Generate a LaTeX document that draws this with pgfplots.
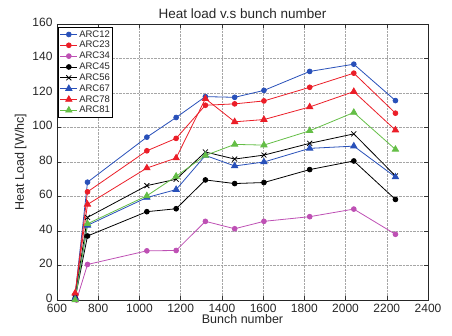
\documentclass[border=0pt]{standalone}
\usepackage{fontspec}
\setmainfont{Liberation Sans}
\usepackage{pgfplots}
\pgfplotsset{compat=1.18}
\definecolor{cblue}{RGB}{40,80,185}
\definecolor{cred}{RGB}{235,30,40}
\definecolor{cpink}{RGB}{190,80,180}
\definecolor{cgreen}{RGB}{100,190,70}
\begin{document}
\begin{tikzpicture}
\begin{axis}[
  scale only axis,
  width=371pt, height=276pt,
  xmin=600, xmax=2400, ymin=0, ymax=160,
  xtick={600,800,...,2400}, ytick={0,20,...,160},
  grid=major,
  grid style={densely dotted, black!35, line width=0.4pt},
  tick align=inside,
  major tick length=4pt,
  tick style={black!80, line width=0.5pt},
  axis line style={black!85, line width=0.9pt},
  /pgf/number format/assume math mode=true,
  /pgf/number format/1000 sep={},
  ticklabel style={font=\fontsize{12}{14}\selectfont, text=black!85},
  yticklabel style={yshift=2pt, xshift=-1pt},
  xticklabel style={yshift=-1pt},
  title={Heat load v.s bunch number},
  title style={font=\fontsize{13.5}{15}\selectfont, text=black!85, yshift=-4pt},
  xlabel={Bunch number},
  ylabel={Heat Load [W/hc]},
  label style={font=\fontsize{12.5}{14}\selectfont, text=black!85},
  xlabel style={yshift=5pt},
  ylabel style={yshift=-1pt},
  legend cell align=left,
  legend style={at={(0,1)}, anchor=north west, xshift=1pt, yshift=-3pt,
    font=\fontsize{9.5}{10.5}\selectfont, draw=black, line width=0.8pt,
    inner sep=1.5pt, row sep=-0.3pt, text=black!85,
    nodes={inner sep=1.5pt}},
  every axis plot/.append style={line width=0.8pt},
]
\coordinate (bl) at (rel axis cs:0,0);
\coordinate (tr) at (rel axis cs:1,1);
\addplot[cblue, mark=*, mark size=2.4pt, mark options={fill=cblue}] coordinates {
(688,3) (748,68.3) (1036,94.4) (1178,105.8) (1320,117.9) (1462,117.5) (1604,121.5) (1826,132.5) (2040,136.7) (2242,115.6)};
\addlegendentry{ARC12}
\addplot[cred, mark=*, mark size=2.4pt, mark options={fill=cred}] coordinates {
(688,3) (748,62.7) (1036,86.5) (1178,93.7) (1320,112.9) (1462,113.7) (1604,115.4) (1826,123.3) (2040,131.5) (2242,108.3)};
\addlegendentry{ARC23}
\addplot[cpink, mark=*, mark size=2.4pt, mark options={fill=cpink}] coordinates {
(695,0) (748,20.6) (1036,28.5) (1178,28.7) (1320,45.6) (1462,41.3) (1604,45.6) (1826,48.3) (2040,52.7) (2242,38.1)};
\addlegendentry{ARC34}
\addplot[black, mark=*, mark size=2.4pt, mark options={fill=black}] coordinates {
(688,1) (748,37.1) (1036,51.2) (1178,52.9) (1320,69.6) (1462,67.5) (1604,68.1) (1826,75.6) (2040,80.6) (2242,58.3)};
\addlegendentry{ARC45}
\addplot[black, mark=x, mark size=3.5pt] coordinates {
(688,2) (748,47.9) (1036,66.3) (1178,70.0) (1320,85.8) (1462,81.7) (1604,84.0) (1826,90.8) (2040,96.3) (2242,71.9)};
\addlegendentry{ARC56}
\addplot[cblue, mark=triangle*, mark size=3.6pt, mark options={fill=cblue}] coordinates {
(688,1) (748,43.3) (1036,59.4) (1178,64.0) (1320,83.8) (1462,77.7) (1604,80.0) (1826,87.9) (2040,89.2) (2242,71.3)};
\addlegendentry{ARC67}
\addplot[cred, mark=triangle*, mark size=3.6pt, mark options={fill=cred}] coordinates {
(688,4) (748,55.4) (1036,76.5) (1178,82.3) (1320,116.7) (1462,103.3) (1604,104.6) (1826,111.9) (2040,120.8) (2242,98.5)};
\addlegendentry{ARC78}
\addplot[cgreen, mark=triangle*, mark size=3.6pt, mark options={fill=cgreen}] coordinates {
(688,0) (748,44.2) (1036,60.4) (1178,71.7) (1320,83.8) (1462,90.2) (1604,89.8) (1826,98.1) (2040,108.7) (2242,87.3)};
\addlegendentry{ARC81}
\end{axis}
\pgfresetboundingbox
\path ([shift={(-57pt,-36pt)}]bl) rectangle ([shift={(24pt,24pt)}]tr);
\end{tikzpicture}
\end{document}
